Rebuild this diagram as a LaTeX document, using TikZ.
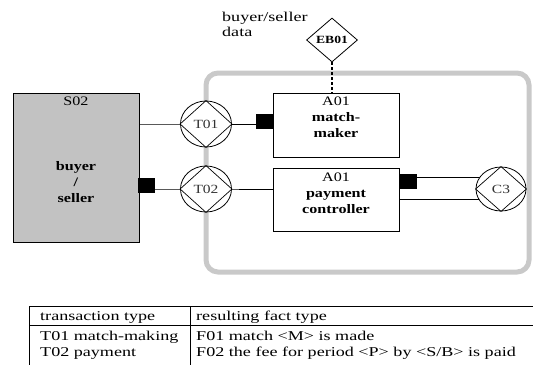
\documentclass[tikz,border=0pt]{standalone}
\usepackage{fontspec}
\setmainfont{Liberation Serif}[FakeStretch=1.24]
\newfontfamily\tabfont{Liberation Serif}[FakeStretch=1.34]
\usetikzlibrary{positioning,shapes.geometric,backgrounds}
\tikzset{
	txt/.style={font=\fontsize{13}{16}\selectfont, inner sep=0pt},
	tabtxt/.style={font=\tabfont\fontsize{13.5}{15}\selectfont, inner sep=0pt},
	actorbox/.style={draw, line width=1pt, minimum width=126pt, inner sep=0pt},
	trans/.style={ellipse, draw, fill=white, line width=0.8pt, minimum width=51pt,
			minimum height=46pt, inner sep=0pt, text=black!80, font=\fontsize{12.5}{14}\selectfont},
	port/.style={fill=black, minimum width=17pt, minimum height=15pt, inner sep=0pt},
	bank/.style={diamond, draw, fill=white, line width=0.8pt, minimum width=51pt,
			minimum height=44pt, inner sep=0pt, font=\fontsize{11}{13}\selectfont\bfseries},
	scopeline/.style={line width=5pt, black!21, rounded corners=12pt}
}

\begin{document}
\begin{tikzpicture}[x=1pt, y=-1pt]
		\useasboundingbox (0,0) rectangle (533,365);

		% actors
		\node[actorbox, fill=black!24, minimum height=149pt] (s02) at (76,167.5) {};
		\node[txt, below=4pt of s02.north] (s02name) {S02};
		\node[txt, align=center, below=69pt of s02.north] (s02role) {\textbf{buyer}\\\textbf{/}\\\textbf{seller}};

		\node[actorbox, minimum height=64pt] (mm) at (336,125) {};
		\node[txt, align=center, below=4pt of mm.north] (mmname) {A01\\\textbf{match-}\\\textbf{maker}};

		\node[actorbox, minimum height=63pt] (pc) at (336,199.5) {};
		\node[txt, align=center, below=5pt of pc.north] (pcname) {A01\\\textbf{payment}\\\textbf{controller}};

		% transactions
		\node[trans] (t01) at (206,124) {T01};
		\node[trans] (t02) at (206,189) {T02};
		\node[trans, minimum width=50pt, minimum height=44pt] (c3) at (501,189) {C3};
		\foreach \t in {t01,t02,c3}
			\draw[line width=0.7pt] (\t.west) -- (\t.north) -- (\t.east) -- (\t.south) -- cycle;

		% executor ports
		\node[port] (p1) at (264.5,121) {};
		\node[port] (p2) at (146.5,185) {};
		\node[port] (p3) at (408,181) {};

		\node[bank] (eb01) at (332,40) {EB01};
		\node[tabtxt, align=left, anchor=north west] (ebdata) at (222,11.5) {buyer/seller\\data};

		\begin{scope}[on background layer]
			\draw[scopeline] (206,73) rectangle (529,272);
			\draw[line width=0.8pt] (t01.center -| s02.east) -- (t01.center) -- (t01.center -| p1.west);
			\draw[line width=0.8pt] (t02.center -| p2.east) -- (t02.center) -- (t02.center -| pc.west);
			\draw[line width=0.8pt] ([yshift=4pt]p3.east) -- ([yshift=4pt]p3.east -| c3.center);
			\draw[line width=0.8pt] (pc.east) -- (pc.east -| c3.center);
		\end{scope}
		\draw[line width=1.6pt, dash pattern=on 3pt off 2pt] (eb01.south) -- (eb01.south |- mm.north);

		% fact table
		\draw[line width=0.9pt] (29,306) -- (533,306);
		\draw[line width=0.9pt] (29,325) -- (533,325);
		\draw[line width=0.9pt] (29,306) -- (29,365);
		\draw[line width=0.9pt] (190,306) -- (190,365);
		\node[tabtxt, anchor=base west] (h1) at (40,320) {transaction type};
		\node[tabtxt, anchor=base west] (h2) at (196,320) {resulting fact type};
		\node[tabtxt, anchor=base west] (r1a) at (40,340) {T01 match-making};
		\node[tabtxt, anchor=base west] (r1b) at (196,340) {F01 match <M> is made};
		\node[tabtxt, anchor=base west] (r2a) at (40,356) {T02 payment};
		\node[tabtxt, anchor=base west] (r2b) at (196,356) {F02 the fee for period <P> by <S/B> is paid};
	\end{tikzpicture}
\end{document}
